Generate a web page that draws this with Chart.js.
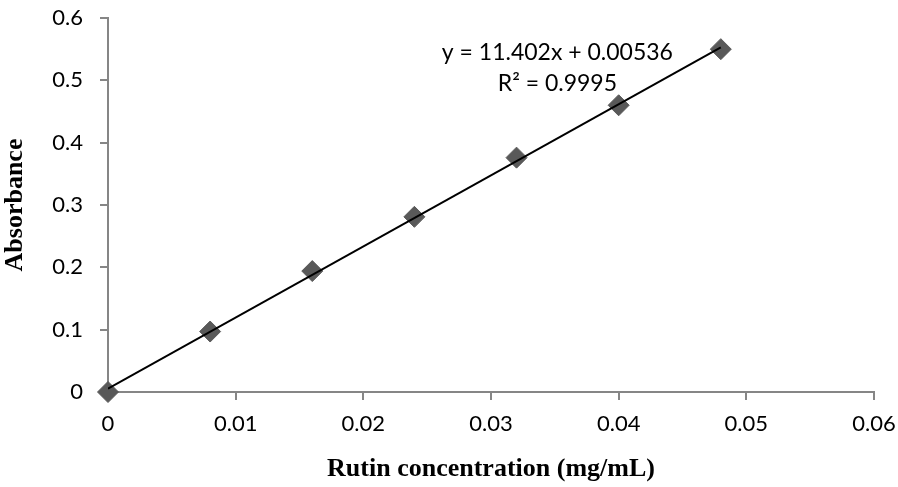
<!DOCTYPE html>
<html>
<head>
<meta charset="utf-8">
<script src="https://cdn.jsdelivr.net/npm/chart.js@4.4.1/dist/chart.umd.min.js"></script>
<style>
  html, body { margin: 0; padding: 0; background: #fff; }
  #wrap { width: 898px; height: 487px; }
</style>
</head>
<body>
<div id="wrap"><canvas id="c" width="898" height="487"></canvas></div>
<script>
// ── Data ──────────────────────────────────────────────────────────────
const concentration = [0, 0.008, 0.016, 0.024, 0.032, 0.04, 0.048];
const absorbance = [0, 0.097, 0.194, 0.281, 0.376, 0.46, 0.55];
// Excel linear trendline, drawn between the first and last x
const trendX = [0, 0.048];
const trendY = [0.00536, 0.5527];
const xTickLabels = ["0", "0.01", "0.02", "0.03", "0.04", "0.05", "0.06"];
const yTickLabels = ["0", "0.1", "0.2", "0.3", "0.4", "0.5", "0.6"];
const equationLines = ["y = 11.402x + 0.00536", "R\u00B2 = 0.9995"];

const AXIS = "#868686";
const TICK_FONT = { family: "Lato, 'Open Sans', sans-serif", size: 22 };
const TITLE_FONT = { family: "'Liberation Serif', serif", size: 26, weight: "bold" };

// Trendline equation label, placed in data space above the last points
const equationLabel = {
  id: "equationLabel",
  afterDatasetsDraw(chart) {
    const { ctx, scales } = chart;
    const cx = scales.x.getPixelForValue(0.0352);
    const y0 = scales.y.getPixelForValue(0.545);
    ctx.save();
    ctx.fillStyle = "#000";
    ctx.font = "23px Lato, 'Open Sans', sans-serif";
    ctx.textAlign = "center";
    ctx.textBaseline = "middle";
    equationLines.forEach((t, i) => ctx.fillText(t, cx, y0 + i * 31));
    ctx.restore();
  },
};

// fixed plot box: y axis at x=108, x axis at y=392, top at y=18
const fixPadding = (s) => {
  s.paddingTop = 0;
  s.paddingBottom = 0;
  s.paddingLeft = 0;
  s.paddingRight = 0;
};

new Chart(document.getElementById("c"), {
  type: "scatter",
  data: {
    datasets: [
      {
        label: "Trendline",
        type: "line",
        data: trendX.map((x, i) => ({ x, y: trendY[i] })),
        borderColor: "#000",
        borderWidth: 2,
        pointRadius: 0,
        fill: false,
      },
      {
        label: "Absorbance",
        data: concentration.map((x, i) => ({ x, y: absorbance[i] })),
        pointStyle: "rectRot",
        pointRadius: 10.5,
        pointBackgroundColor: "#595959",
        pointBorderColor: "#595959",
        pointBorderWidth: 1,
        clip: false,
      },
    ],
  },
  plugins: [equationLabel],
  options: {
    responsive: false,
    animation: false,
    layout: { autoPadding: false, padding: { left: 0, top: 18, right: 24, bottom: 0 } },
    plugins: { legend: { display: false }, tooltip: { enabled: false } },
    scales: {
      x: {
        type: "linear",
        min: 0,
        max: 0.06,
        afterFit: (s) => { s.height = 95; fixPadding(s); },
        afterBuildTicks: (s) => {
          s.ticks = xTickLabels.map((_, i) => ({ value: i * 0.01 }));
        },
        ticks: {
          color: "#000",
          font: TICK_FONT,
          padding: 11,
          maxRotation: 0,
          callback: (v, i) => xTickLabels[i],
        },
        grid: { drawOnChartArea: false, drawTicks: true, tickLength: 8, color: AXIS, lineWidth: 2 },
        border: { color: AXIS, width: 2 },
        title: {
          display: true,
          text: "Rutin concentration (mg/mL)",
          color: "#000",
          font: TITLE_FONT,
          padding: { top: 4, bottom: 2 },
        },
      },
      y: {
        min: 0,
        max: 0.6,
        afterFit: (s) => { s.width = 108; fixPadding(s); },
        afterBuildTicks: (s) => {
          s.ticks = yTickLabels.map((_, i) => ({ value: i * 0.1 }));
        },
        ticks: {
          color: "#000",
          font: TICK_FONT,
          padding: 17,
          callback: (v, i) => yTickLabels[i],
        },
        grid: { drawOnChartArea: false, drawTicks: true, tickLength: 8, color: AXIS, lineWidth: 2 },
        border: { color: AXIS, width: 2 },
        title: {
          display: true,
          text: "Absorbance",
          color: "#000",
          font: TITLE_FONT,
          padding: { top: 0, bottom: 4 },
        },
      },
    },
  },
});
</script>
</body>
</html>
